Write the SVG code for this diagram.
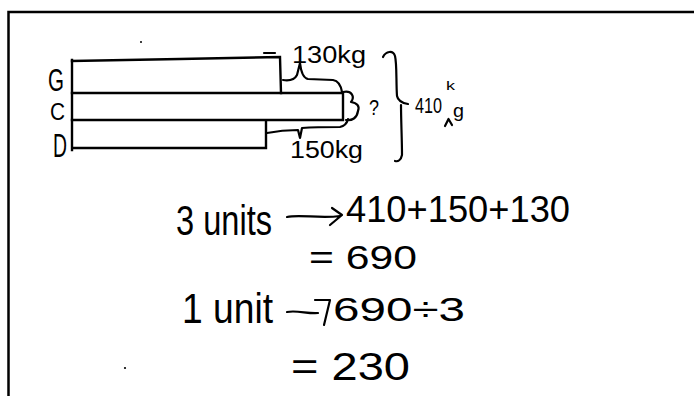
<svg xmlns="http://www.w3.org/2000/svg" width="694" height="396" viewBox="0 0 694 396">
  <style>
    .ink { fill: none; stroke: #000; stroke-width: 2.2; stroke-linecap: round; stroke-linejoin: round; }
    .bar { fill: none; stroke: #000; stroke-width: 2.4; stroke-linecap: square; }
    .hand { font-family: "Liberation Sans", "DejaVu Sans", sans-serif; fill: #000; }
  </style>
  <rect x="0" y="0" width="694" height="396" fill="#fff"/>

  <!-- page frame -->
  <g id="frame">
    <path d="M8.5,396 L8.5,12 L694,12" fill="none" stroke="#000" stroke-width="2.5"/>
  </g>

  <!-- stray pen dots -->
  <circle cx="141" cy="42" r="1" fill="#000"/>
  <circle cx="125" cy="368" r="1.1" fill="#000"/>

  <!-- bar model -->
  <g id="bar-G">
    <path class="bar" d="M72,61 L180,59 L280,57 L281,93"/>
    <path class="ink" d="M264,53 L275,53" stroke-width="1.6"/>
    <text class="hand" x="48" y="90.5" font-size="32" textLength="16" lengthAdjust="spacingAndGlyphs">G</text>
  </g>
  <g id="bar-C">
    <path class="bar" d="M72,93 L343,93 L343,120 L72,120"/>
    <text class="hand" x="50" y="119.5" font-size="24" textLength="15" lengthAdjust="spacingAndGlyphs">C</text>
  </g>
  <g id="bar-D">
    <path class="bar" d="M72,60 L72,150 M72,148 L266,148 L266,121"/>
    <text class="hand" x="53" y="157" font-size="34" textLength="14" lengthAdjust="spacingAndGlyphs">D</text>
  </g>

  <!-- braces -->
  <g id="braces">
    <path class="ink" d="M283,80 C290,81 295,79 297,75 L300,63 M300,63 C301,72 303,78 308,79 L333,80 C339,81 341,86 342,92"/>
    <path class="ink" d="M343,92 C352,90 355,97 351,102 C357,103 360,106 358,111 C357,118 352,121 346,120"/>
    <path class="ink" d="M267,133 C277,131 290,130 298,130 L300,138 M300,138 L302,128 C315,127 330,127 340,127 C345,126 347,123 348,119"/>
    <path class="ink" d="M383,57 C386,51 393,50 395,56 C397,64 396,82 397,96 C398,101 402,103 408,104 M401,105 C401,120 402,140 402,155 C401,160 398,162 395,161"/>
  </g>

  <g id="labels">
    <text class="hand" x="292" y="63" font-size="23" textLength="74" lengthAdjust="spacingAndGlyphs">130kg</text>
    <text class="hand" x="290" y="158" font-size="23" textLength="73" lengthAdjust="spacingAndGlyphs">150kg</text>
    <text class="hand" x="369" y="115" font-size="22" textLength="10" lengthAdjust="spacingAndGlyphs">?</text>
    <text class="hand" x="415" y="113" font-size="22" textLength="27" lengthAdjust="spacingAndGlyphs">410</text>
    <text class="hand" x="446" y="90" font-size="13" textLength="9" lengthAdjust="spacingAndGlyphs">k</text>
    <text class="hand" x="453" y="117" font-size="18" textLength="11" lengthAdjust="spacingAndGlyphs">g</text>
    <path class="ink" d="M445,126 L448.5,119 L452,125" stroke-width="1.8"/>
  </g>

  <!-- working -->
  <g id="working">
    <text class="hand" x="176" y="235" font-size="42" textLength="96" lengthAdjust="spacingAndGlyphs">3 units</text>
    <path class="ink" d="M287,217 C300,214 320,219 340,216 M332,208 L342,215 L330,225"/>
    <text class="hand" x="346" y="222" font-size="36" textLength="224" lengthAdjust="spacingAndGlyphs">410+150+130</text>

    <text class="hand" x="309" y="269" font-size="34" textLength="108" lengthAdjust="spacingAndGlyphs">= 690</text>

    <text class="hand" x="182" y="323" font-size="42" textLength="91" lengthAdjust="spacingAndGlyphs">1 unit</text>
    <path class="ink" d="M287,312 C297,310 308,314 318,313 M315,300 L330,300 L324,325"/>
    <text class="hand" x="333" y="321" font-size="34" textLength="132" lengthAdjust="spacingAndGlyphs">690÷3</text>

    <text class="hand" x="291" y="380" font-size="38" textLength="119" lengthAdjust="spacingAndGlyphs">= 230</text>
  </g>
</svg>
